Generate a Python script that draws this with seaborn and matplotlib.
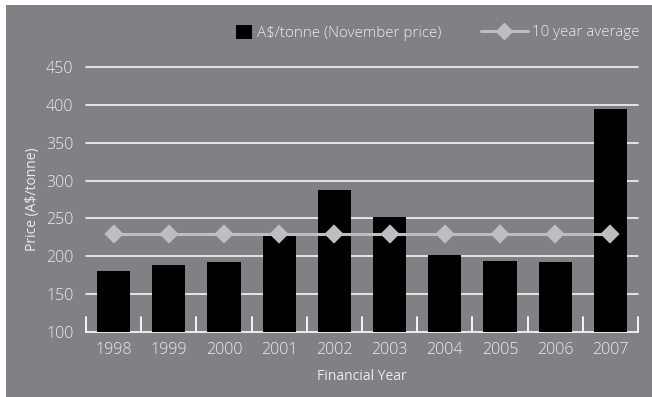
import matplotlib
matplotlib.use('Agg')
import matplotlib.pyplot as plt
from matplotlib.patches import Rectangle, Patch
from matplotlib.lines import Line2D
import seaborn as sns

# Data
years = ['1998', '1999', '2000', '2001', '2002', '2003', '2004', '2005', '2006', '2007']
price = [181, 189, 192, 231, 288, 252, 202, 194, 192, 395]
ten_year_avg = [230, 230, 230, 230, 230, 230, 230, 230, 230, 230]
y_ticks = [100, 150, 200, 250, 300, 350, 400, 450]

bg = '#808185'
txt = '#ececec'
line_col = '#bdbec1'

sns.set_style('white')
plt.rcParams['font.family'] = ['Open Sans', 'DejaVu Sans']
plt.rcParams['font.weight'] = 'light'

fig = plt.figure(figsize=(6.52, 3.97), dpi=100, facecolor='white')
# grey panel with thin white margin on top/left
fig.patches.append(Rectangle((6 / 652, 0), 1, 392 / 397, transform=fig.transFigure,
                             facecolor=bg, edgecolor='none', zorder=-10))
ax = fig.add_axes([86 / 652, 1 - 332 / 397, 552 / 652, 265 / 397])
ax.set_facecolor('none')

sns.barplot(x=years, y=price, color='black', width=0.6, saturation=1,
            edgecolor='none', linewidth=0, ax=ax, zorder=3)
sns.pointplot(x=years, y=ten_year_avg, color=line_col, markers='D', markersize=8,
              linewidth=2.2, ax=ax, zorder=4)

ax.set_ylim(100, 450)
ax.set_xlim(-0.5, 9.5)
ax.set_yticks(y_ticks)
for v in y_ticks[1:]:
    ax.axhline(v, color='white', lw=1.1, zorder=1, clip_on=False)

for s in ['top', 'right', 'left']:
    ax.spines[s].set_visible(False)
ax.spines['bottom'].set_color('white')
ax.spines['bottom'].set_linewidth(1.2)

# category separators rising from the base line
for b in range(len(years) + 1):
    ax.axvline(b - 0.5, ymin=0, ymax=15 / 265, color='white', lw=1.3,
               zorder=5, clip_on=False)

ax.tick_params(axis='x', length=0, pad=7, labelsize=11.5, labelcolor=txt)
ax.tick_params(axis='y', length=0, pad=9, labelsize=11.5, labelcolor=txt)

ax.set_xlabel('Financial Year', color=txt, fontsize=10, va='center')
ax.xaxis.set_label_coords(0.5, -45 / 265)
ax.set_ylabel('Price (A$/tonne)', color=txt, fontsize=10, va='center', ha='center')
ax.yaxis.set_label_coords(-53 / 552, 0.5)

leg1 = fig.legend(handles=[Patch(facecolor='black', edgecolor='none',
                                 label='A$/tonne (November price)')],
                  loc='center left', bbox_to_anchor=(236 / 652, 1 - 33 / 397),
                  frameon=False, fontsize=10.9, labelcolor=txt, borderpad=0,
                  borderaxespad=0, handlelength=1.05, handleheight=1.05, handletextpad=0.35)
leg2 = fig.legend(handles=[Line2D([0], [0], color=line_col, lw=2.2, marker='D',
                                  markersize=8, label='10 year average')],
                  loc='center left', bbox_to_anchor=(481 / 652, 1 - 33 / 397),
                  frameon=False, fontsize=10.9, labelcolor=txt, borderpad=0,
                  borderaxespad=0, handlelength=3.1, handletextpad=0.3)

fig.savefig('out.png', dpi=100, facecolor='white')
